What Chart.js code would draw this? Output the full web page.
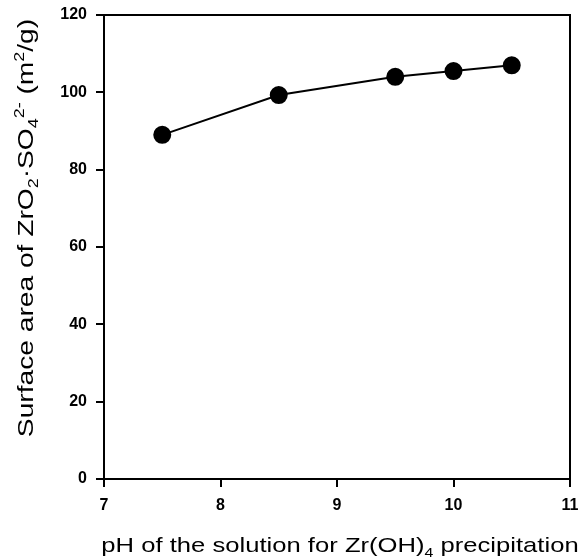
<!DOCTYPE html>
<html>
<head>
<meta charset="utf-8">
<script src="https://cdn.jsdelivr.net/npm/chart.js@4/dist/chart.umd.min.js"></script>
<style>
  html, body { margin: 0; padding: 0; background: #fff; }
  canvas { display: block; }
</style>
</head>
<body>
<canvas id="area" width="580" height="560"></canvas>
<script>
  // pH of precipitation vs. surface area
  var phValues = [7.5, 8.5, 9.5, 10, 10.5];
  var surfaceArea = [89, 99.3, 104, 105.5, 107];
  var xTicks = [7, 8, 9, 10, 11];
  var yTicks = [0, 20, 40, 60, 80, 100, 120];

  // axis titles as runs of normal / sub / sup text
  var xTitle = [["pH of the solution for Zr(OH)", "n"], ["4", "sub"], [" precipitation", "n"]];
  var yTitle = [["Surface area of ZrO", "n"], ["2", "sub"], ["\u00b7SO", "n"], ["4", "sub"],
                ["2-", "sup"], [" (m", "n"], ["2", "sup"], ["/g)", "n"]];

  var family = "Arial, 'Liberation Sans', sans-serif";

  function runWidth(c, runs, size) {
    var w = 0;
    runs.forEach(function (r) {
      c.font = (r[1] === "n" ? size : Math.round(size * 0.62)) + "px " + family;
      w += c.measureText(r[0]).width;
    });
    return w;
  }

  // draws runs centred on 0 with baseline at 0
  function drawRuns(c, runs, size) {
    var x = -runWidth(c, runs, size) / 2;
    c.textBaseline = "alphabetic";
    c.textAlign = "left";
    runs.forEach(function (r) {
      var dy = 0;
      if (r[1] === "sub") dy = size * 0.22;
      if (r[1] === "sup") dy = -size * 0.42;
      c.font = (r[1] === "n" ? size : Math.round(size * 0.62)) + "px " + family;
      c.fillText(r[0], x, dy);
      x += c.measureText(r[0]).width;
    });
  }

  var frameAndTitles = {
    id: "frameAndTitles",
    afterDraw: function (chart) {
      var a = chart.chartArea;
      var c = chart.ctx;
      c.save();
      c.strokeStyle = "#000";
      c.lineWidth = 2;
      c.strokeRect(a.left, a.top, a.right - a.left, a.bottom - a.top);
      c.fillStyle = "#000";

      // x title
      c.save();
      c.translate((a.left + a.right) / 2 + 3, a.bottom + 73);
      c.scale(1.22, 1);
      drawRuns(c, xTitle, 21);
      c.restore();

      // y title, rotated
      c.save();
      c.translate(33, 228);
      c.rotate(-Math.PI / 2);
      c.scale(1.28, 1);
      drawRuns(c, yTitle, 22);
      c.restore();

      c.restore();
    }
  };

  var tickFont = { family: family, size: 16, weight: "bold" };

  var ctx = document.getElementById("area").getContext("2d");
  new Chart(ctx, {
    type: "scatter",
    data: {
      datasets: [{
        data: phValues.map(function (x, i) { return { x: x, y: surfaceArea[i] }; }),
        showLine: true,
        borderColor: "#000",
        borderWidth: 2,
        backgroundColor: "#000",
        pointRadius: 8,
        pointHoverRadius: 8
      }]
    },
    options: {
      responsive: false,
      animation: false,
      layout: { padding: { top: 15, right: 10, left: 0, bottom: 0 } },
      plugins: { legend: { display: false }, tooltip: { enabled: false } },
      scales: {
        x: {
          type: "linear",
          min: 7,
          max: 11,
          afterBuildTicks: function (s) { s.ticks = xTicks.map(function (v) { return { value: v }; }); },
          afterFit: function (s) { s.height = 81; s.paddingLeft = 0; s.paddingRight = 0; },
          grid: { drawOnChartArea: false, drawTicks: true, tickLength: 8, color: "#000", lineWidth: 2 },
          border: { color: "#000", width: 2 },
          ticks: { color: "#000", font: tickFont, padding: 9 }
        },
        y: {
          min: 0,
          max: 120,
          afterBuildTicks: function (s) { s.ticks = yTicks.map(function (v) { return { value: v }; }); },
          afterFit: function (s) { s.width = 104; s.paddingTop = 0; s.paddingBottom = 0; },
          grid: { drawOnChartArea: false, drawTicks: true, tickLength: 8, color: "#000", lineWidth: 2 },
          border: { color: "#000", width: 2 },
          ticks: { color: "#000", font: tickFont, padding: 9 }
        }
      }
    },
    plugins: [frameAndTitles]
  });
</script>
</body>
</html>
